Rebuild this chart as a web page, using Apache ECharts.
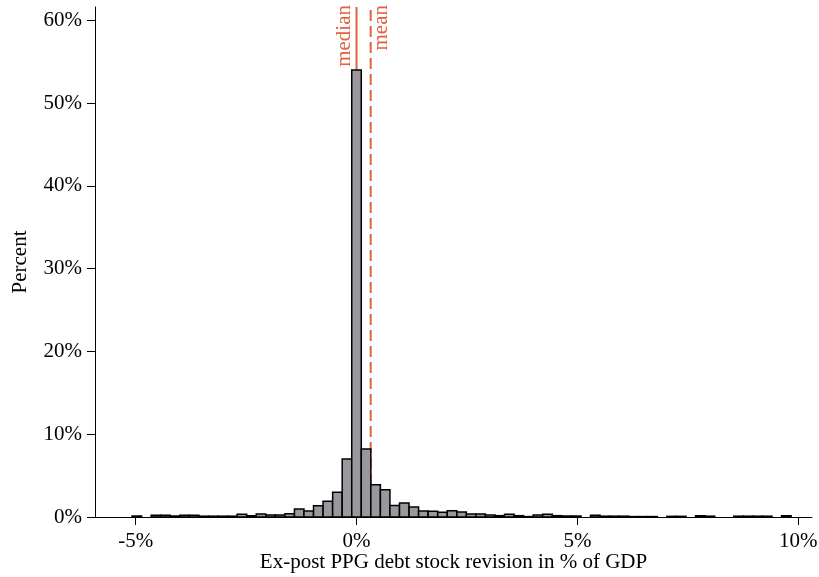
<!DOCTYPE html>
<html>
<head>
<meta charset="utf-8">
<title>PPG debt stock revisions</title>
<script src="https://cdn.jsdelivr.net/npm/echarts@6/dist/echarts.min.js"></script>
<style>
  html, body { margin: 0; padding: 0; background: #ffffff; }
  #chart { width: 819px; height: 577px; }
</style>
</head>
<body>
<div id="chart"></div>
<script>
// Histogram of ex-post revisions (% of GDP); bins are 0.2162 pp wide,
// the first bin is centred at -4.973 and the bins run left to right.
const firstBinCenter = -4.973;
const binWidth = 0.2162;
const binPercent = [
  0.12, 0, 0.2, 0.2, 0.12, 0.2, 0.2, 0.1, 0.1, 0.1, 0.1, 0.32,
  0.15, 0.36, 0.24, 0.24, 0.4, 0.96, 0.72, 1.37, 1.9, 3.0, 7.0,
  54.0,
  8.2, 3.9, 3.3, 1.4, 1.7, 1.2, 0.72, 0.68, 0.56, 0.76, 0.6, 0.36,
  0.36, 0.24, 0.16, 0.32, 0.16, 0.05, 0.24, 0.32, 0.16, 0.12, 0.12,
  0, 0.2, 0.1, 0.1, 0.1, 0.05, 0.05, 0.05, 0, 0.08, 0.08, 0,
  0.15, 0.1, 0, 0, 0.1, 0.1, 0.1, 0.1, 0, 0.15
];

// Reference lines: [value, label, side of label (-1 left, 1 right), dashed]
const refLines = [
  [0, 'median', -1, 0],
  [0.32, 'mean', 1, 1]
];

const xTicks = [-5, 0, 5, 10];
const yTicks = [0, 10, 20, 30, 40, 50, 60];
const xRange = [-5.92, 10.31];
const yRange = [0, 61.6];

const FONT = '"Liberation Serif", "Times New Roman", serif';
const RED = '#e0623f';

const barData = binPercent.map((p, i) => [firstBinCenter + i * binWidth, p]);

const chart = echarts.init(document.getElementById('chart'), null, { renderer: 'canvas' });

chart.setOption({
  animation: false,
  backgroundColor: '#ffffff',
  textStyle: { fontFamily: FONT, fontSize: 21, color: '#000' },
  grid: { left: 95, right: 7, top: 7, bottom: 60, containLabel: false, outerBoundsMode: 'none' },
  xAxis: {
    type: 'value',
    min: xRange[0],
    max: xRange[1],
    name: 'Ex-post PPG debt stock revision in % of GDP',
    nameLocation: 'middle',
    nameGap: 35,
    nameMoveOverlap: false,
    nameTextStyle: { fontFamily: FONT, fontSize: 21, color: '#000' },
    axisLine: { show: true, onZero: false, lineStyle: { color: '#000', width: 1 } },
    axisTick: { show: true, customValues: xTicks, length: 8, lineStyle: { color: '#000', width: 1 } },
    axisLabel: {
      customValues: xTicks,
      formatter: v => v + '%',
      margin: 14,
      fontFamily: FONT, fontSize: 21, color: '#000'
    },
    splitLine: { show: false }
  },
  yAxis: {
    type: 'value',
    min: yRange[0],
    max: yRange[1],
    name: 'Percent',
    nameLocation: 'middle',
    nameGap: 64,
    nameRotate: 90,
    nameMoveOverlap: false,
    nameTextStyle: { fontFamily: FONT, fontSize: 21, color: '#000' },
    axisLine: { show: true, onZero: false, lineStyle: { color: '#000', width: 1 } },
    axisTick: { show: true, customValues: yTicks, length: 8, lineStyle: { color: '#000', width: 1 } },
    axisLabel: {
      customValues: yTicks,
      formatter: v => v + '%',
      margin: 13,
      fontFamily: FONT, fontSize: 21, color: '#000'
    },
    splitLine: { show: false }
  },
  series: [
    {
      type: 'custom',
      name: 'reference lines',
      coordinateSystem: 'cartesian2d',
      z: 1,
      data: refLines,
      encode: { x: 0 },
      renderItem: (params, api) => {
        const v = api.value(0);
        const side = api.value(2);
        const dashed = api.value(3);
        const label = refLines[params.dataIndex][1];
        const bottom = api.coord([v, yRange[0]]);
        const top = api.coord([v, yRange[1]]);
        const lx = bottom[0] + side * (side < 0 ? 12 : 11);
        return {
          type: 'group',
          children: [
            {
              type: 'line',
              shape: { x1: bottom[0], y1: bottom[1], x2: top[0], y2: top[1] },
              style: {
                stroke: RED,
                lineWidth: 2,
                lineDash: dashed ? [11, 5] : null
              }
            },
            {
              type: 'text',
              x: lx,
              y: top[1] - 2,
              rotation: Math.PI / 2,
              style: {
                text: label,
                fill: RED,
                font: '21px ' + FONT,
                align: 'right',
                verticalAlign: 'middle'
              }
            }
          ]
        };
      }
    },
    {
      type: 'custom',
      name: 'Percent',
      coordinateSystem: 'cartesian2d',
      z: 2,
      data: barData,
      encode: { x: 0, y: 1 },
      renderItem: (params, api) => {
        const c = api.value(0);
        const h = api.value(1);
        if (!(h > 0)) return null;
        const p0 = api.coord([c - binWidth / 2, h]);
        const p1 = api.coord([c + binWidth / 2, 0]);
        return {
          type: 'rect',
          shape: { x: p0[0], y: p0[1], width: p1[0] - p0[0], height: p1[1] - p0[1] },
          style: { fill: '#9a979d', stroke: '#000', lineWidth: 1.5 }
        };
      }
    }
  ]
});
</script>
</body>
</html>
